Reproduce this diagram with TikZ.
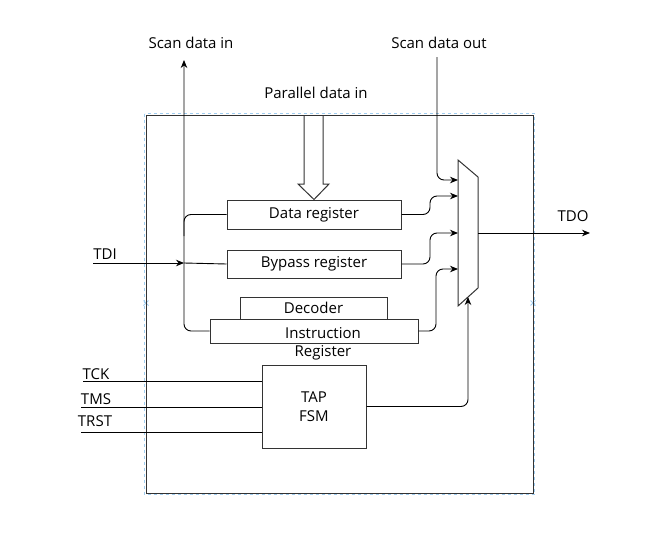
\documentclass[tikz,border=0pt]{standalone}
\usepackage{fontspec}
\setmainfont{Open Sans}
\usetikzlibrary{arrows.meta}
\definecolor{selblue}{RGB}{160,205,240}
\tikzset{
  box/.style={draw=black!80, line width=1pt, inner sep=0pt},
  wire/.style={draw, line width=0.9pt, rounded corners=7pt},
  arr/.style={-{Stealth[length=8pt,width=6.5pt]}},
  lbl/.style={inner sep=0pt}
}

\begin{document}
\begin{tikzpicture}[x=1pt,y=-1pt,font=\fontsize{15}{19}\selectfont]
    \useasboundingbox (0,0) rectangle (648,554);
    \draw[selblue,dashed,line width=0.8pt] (144.5,113.5) rectangle (534.5,494.5);
    \draw[selblue,line width=0.8pt] (143.5,300.5) -- (148.5,305.5) (143.5,305.5) -- (148.5,300.5)
                                    (530.5,300.5) -- (535.5,305.5) (530.5,305.5) -- (535.5,300.5);
    \node[box,minimum width=387,minimum height=378] (chip) at (339.5,304) {};
    \node[box,minimum width=174,minimum height=29] (datareg) at (314,214.5) {Data register};
    \node[box,minimum width=174,minimum height=28] (bypass) at (314,264) {Bypass register};
    \node[box,minimum width=147,minimum height=22] (decoder) at (313.5,308) {Decoder};
    \node[box,minimum width=208,minimum height=24] (instr) at (314,331) {};
    \node[lbl] (instrlbl) at (323,333) {Instruction};
    \node[lbl] (reglbl) at (323,353) {Register};
    \node[box,minimum width=104,minimum height=83,align=center] (fsm) at (314,406.5) {TAP\\FSM};
    \draw[box] (458,160) -- (478,177) -- (478,288) -- (458,306) -- cycle;
    \coordinate (muxa) at (458,180);
    \coordinate (muxb) at (458,196);
    \coordinate (muxc) at (458,233);
    \coordinate (muxd) at (458,269);
    \coordinate (muxout) at (478,233);
    \coordinate (muxsel) at (468,297);
    \coordinate (sdi) at (184,60);
    \coordinate (sdo) at (437,57);
    \coordinate (tdi) at (93,263);
    \coordinate (tdo) at (590,233);
    \coordinate (tck) at (83,381);
    \coordinate (tms) at (81,407);
    \coordinate (trst) at (81,432);
    \node[lbl] (sdilbl) at (191,43) {Scan data in};
    \node[lbl] (sdolbl) at (439,43) {Scan data out};
    \node[lbl] (pdilbl) at (316,93) {Parallel data in};
    \node[lbl] (tdilbl) at (105,254) {TDI};
    \node[lbl] (tdolbl) at (573,216) {TDO};
    \node[lbl] (tcklbl) at (96,374) {TCK};
    \node[lbl] (tmslbl) at (96,399) {TMS};
    \node[lbl] (trstlbl) at (95,421) {TRST};
    \draw[box] (304,115) -- (304,184) -- (298,184) -- (datareg.north) -- (329,184) -- (323,184) -- (323,115);
    \draw[wire,arr] (instr.west) -- (184,331) -- (sdi);
    \draw[wire] (datareg.west) -- (184,214.5) -- (184,236);
    \draw[wire,arr] (tdi) -- (184,263);
    \draw[wire] (184,263) -- (bypass.west);
    \draw[wire,arr] (sdo) -- (437,180) -- (muxa);
    \draw[wire,arr] (datareg.east) -- (430,214.5) -- (430,196) -- (muxb);
    \draw[wire,arr] (bypass.east) -- (430,264) -- (430,233) -- (muxc);
    \draw[wire,arr] (instr.east) -- (436,331) -- (436,269) -- (muxd);
    \draw[wire,arr] (muxout) -- (tdo);
    \draw[wire,arr] (fsm.east) -- (468,406.5) -- (muxsel);
    \draw[wire] (tck) -- (tck -| fsm.west);
    \draw[wire] (tms) -- (tms -| fsm.west);
    \draw[wire] (trst) -- (trst -| fsm.west);
\end{tikzpicture}
\end{document}
